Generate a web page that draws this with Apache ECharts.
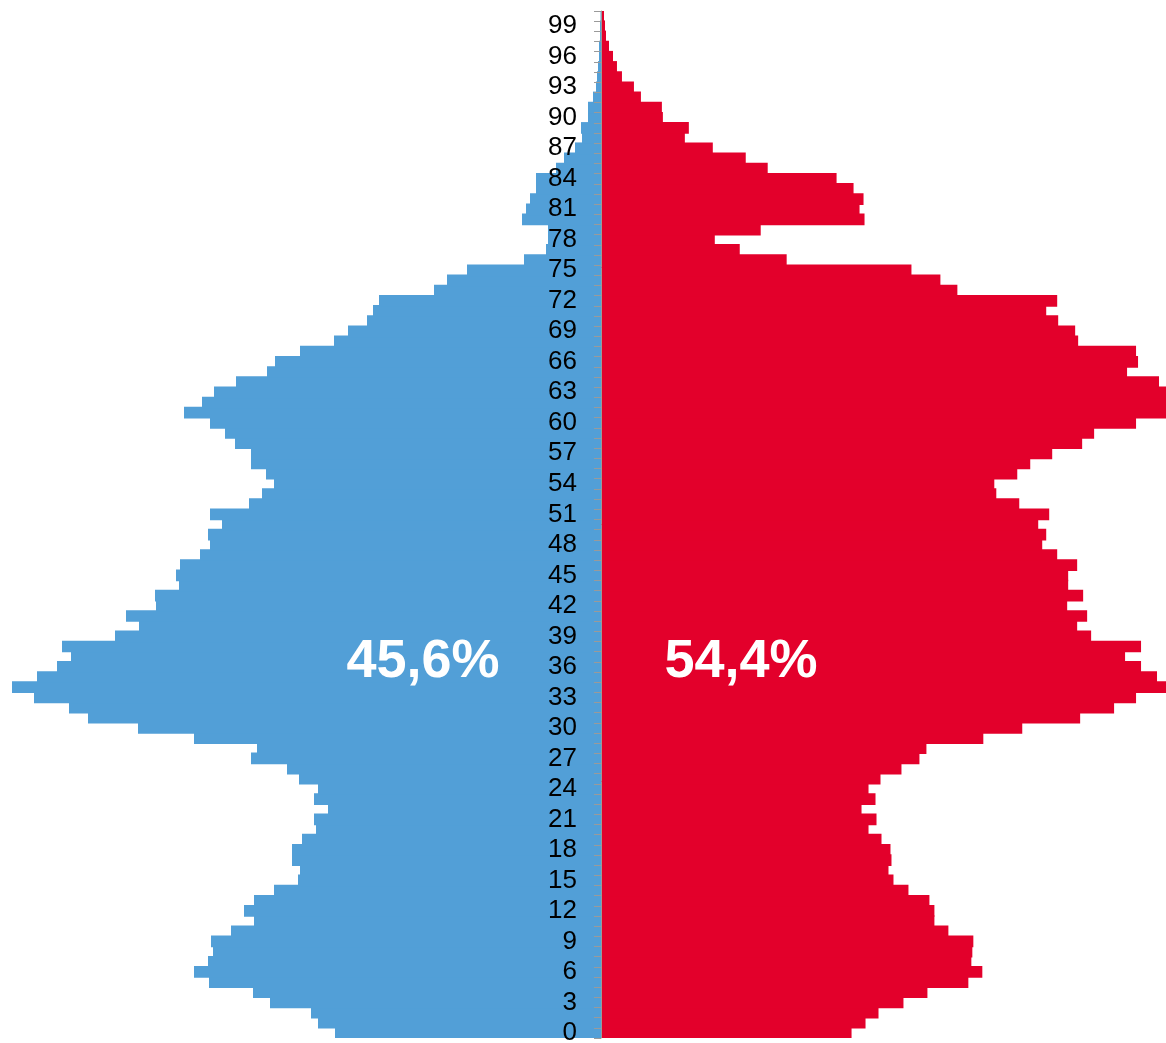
<!DOCTYPE html>
<html>
<head>
<meta charset="utf-8">
<script src="https://cdn.jsdelivr.net/npm/echarts@6/dist/echarts.min.js"></script>
<style>
  html, body { margin: 0; padding: 0; background: #ffffff; }
  #chart { width: 1166px; height: 1043px; }
</style>
</head>
<body>
<div id="chart"></div>
<script>
// Age categories (bottom to top)
const ages = ['0','1','2','3','4','5','6','7','8','9',
  '10','11','12','13','14','15','16','17','18','19',
  '20','21','22','23','24','25','26','27','28','29',
  '30','31','32','33','34','35','36','37','38','39',
  '40','41','42','43','44','45','46','47','48','49',
  '50','51','52','53','54','55','56','57','58','59',
  '60','61','62','63','64','65','66','67','68','69',
  '70','71','72','73','74','75','76','77','78','79',
  '80','81','82','83','84','85','86','87','88','89',
  '90','91','92','93','94','95','96','97','98','99','100'];

// Men (left side), relative units, by age 0..100
const men = [266, 283, 290, 331, 348, 392, 407, 393, 388, 390,
  370, 347, 357, 347, 327, 303, 301, 309, 309, 299,
  285, 287, 273, 287, 283, 302, 314, 350, 344, 407,
  463, 513, 532, 567, 589, 564, 544, 530, 539, 486,
  462, 475, 445, 446, 422, 425, 421, 401, 391, 393,
  379, 391, 352, 339, 327, 335, 350, 350, 366, 376,
  391, 417, 399, 387, 365, 334, 326, 301, 267, 253,
  234, 228, 222, 167, 154, 134, 77, 55, 53, 53,
  79, 75, 71, 65, 65, 45, 37, 26, 19, 20,
  13, 13, 8, 5, 4, 3, 2, 2, 1, 1, 0.5];

// Women (right side), relative units, by age 0..100
const women = [251, 265, 278, 303, 327, 368, 382, 371, 372, 373,
  348, 334, 334, 329, 308, 293, 288, 291, 290, 281,
  268, 276, 261, 275, 268, 280, 301, 319, 326, 383,
  422, 480, 514, 536, 566, 557, 541, 525, 541, 491,
  477, 487, 467, 483, 468, 468, 477, 457, 442, 446,
  438, 449, 419, 396, 394, 417, 430, 452, 482, 494,
  536, 566, 566, 566, 559, 527, 538, 536, 478, 475,
  458, 446, 457, 357, 340, 311, 186, 139, 114, 160,
  264, 259, 263, 253, 236, 167, 145, 112, 84, 88,
  62, 61, 40, 33, 21, 16, 12, 8, 5, 4, 3];

const menShare = '45,6%';
const womenShare = '54,4%';

const BLUE = '#529fd7';
const RED = '#e3002b';

const chart = echarts.init(document.getElementById('chart'), null, { renderer: 'canvas' });

chart.setOption({
  animation: false,
  backgroundColor: '#ffffff',
  grid: [
    { left: 12, width: 589, top: 11, bottom: 5, containLabel: false, outerBoundsMode: 'none' },
    { left: 601, right: 0, top: 11, bottom: 5, containLabel: false, outerBoundsMode: 'none' }
  ],
  xAxis: [
    { gridIndex: 0, type: 'value', min: 0, max: 589, inverse: true, show: false, splitLine: { show: false } },
    { gridIndex: 1, type: 'value', min: 0, max: 566, show: false, splitLine: { show: false } }
  ],
  yAxis: [
    {
      gridIndex: 0,
      type: 'category',
      data: ages,
      position: 'right',
      z: 10,
      axisLine: { show: true, lineStyle: { color: '#9a9a9a', width: 1 } },
      axisTick: {
        show: true, interval: 0, length: 7, inside: true,
        lineStyle: { color: '#9a9a9a', width: 1 }
      },
      axisLabel: {
        inside: true,
        interval: function (index) { return index % 3 === 0; },
        color: '#000000',
        fontFamily: 'Liberation Sans, Arial, sans-serif',
        fontSize: 26,
        margin: 24
      },
      splitLine: { show: false }
    },
    {
      gridIndex: 1,
      type: 'category',
      data: ages,
      show: false
    }
  ],
  series: [
    {
      name: 'Men',
      type: 'bar',
      xAxisIndex: 0,
      yAxisIndex: 0,
      data: men,
      barWidth: '115%',
      itemStyle: { color: BLUE },
      silent: true
    },
    {
      name: 'Women',
      type: 'bar',
      xAxisIndex: 1,
      yAxisIndex: 1,
      data: women,
      barWidth: '115%',
      itemStyle: { color: RED },
      silent: true
    }
  ],
  graphic: [
    {
      type: 'text', z: 100,
      x: 423, y: 662,
      style: {
        text: menShare, fill: '#ffffff',
        align: 'center', verticalAlign: 'middle',
        font: 'bold 54px "Liberation Sans", Arial, sans-serif'
      }
    },
    {
      type: 'text', z: 100,
      x: 741, y: 662,
      style: {
        text: womenShare, fill: '#ffffff',
        align: 'center', verticalAlign: 'middle',
        font: 'bold 54px "Liberation Sans", Arial, sans-serif'
      }
    }
  ]
});
</script>
</body>
</html>
